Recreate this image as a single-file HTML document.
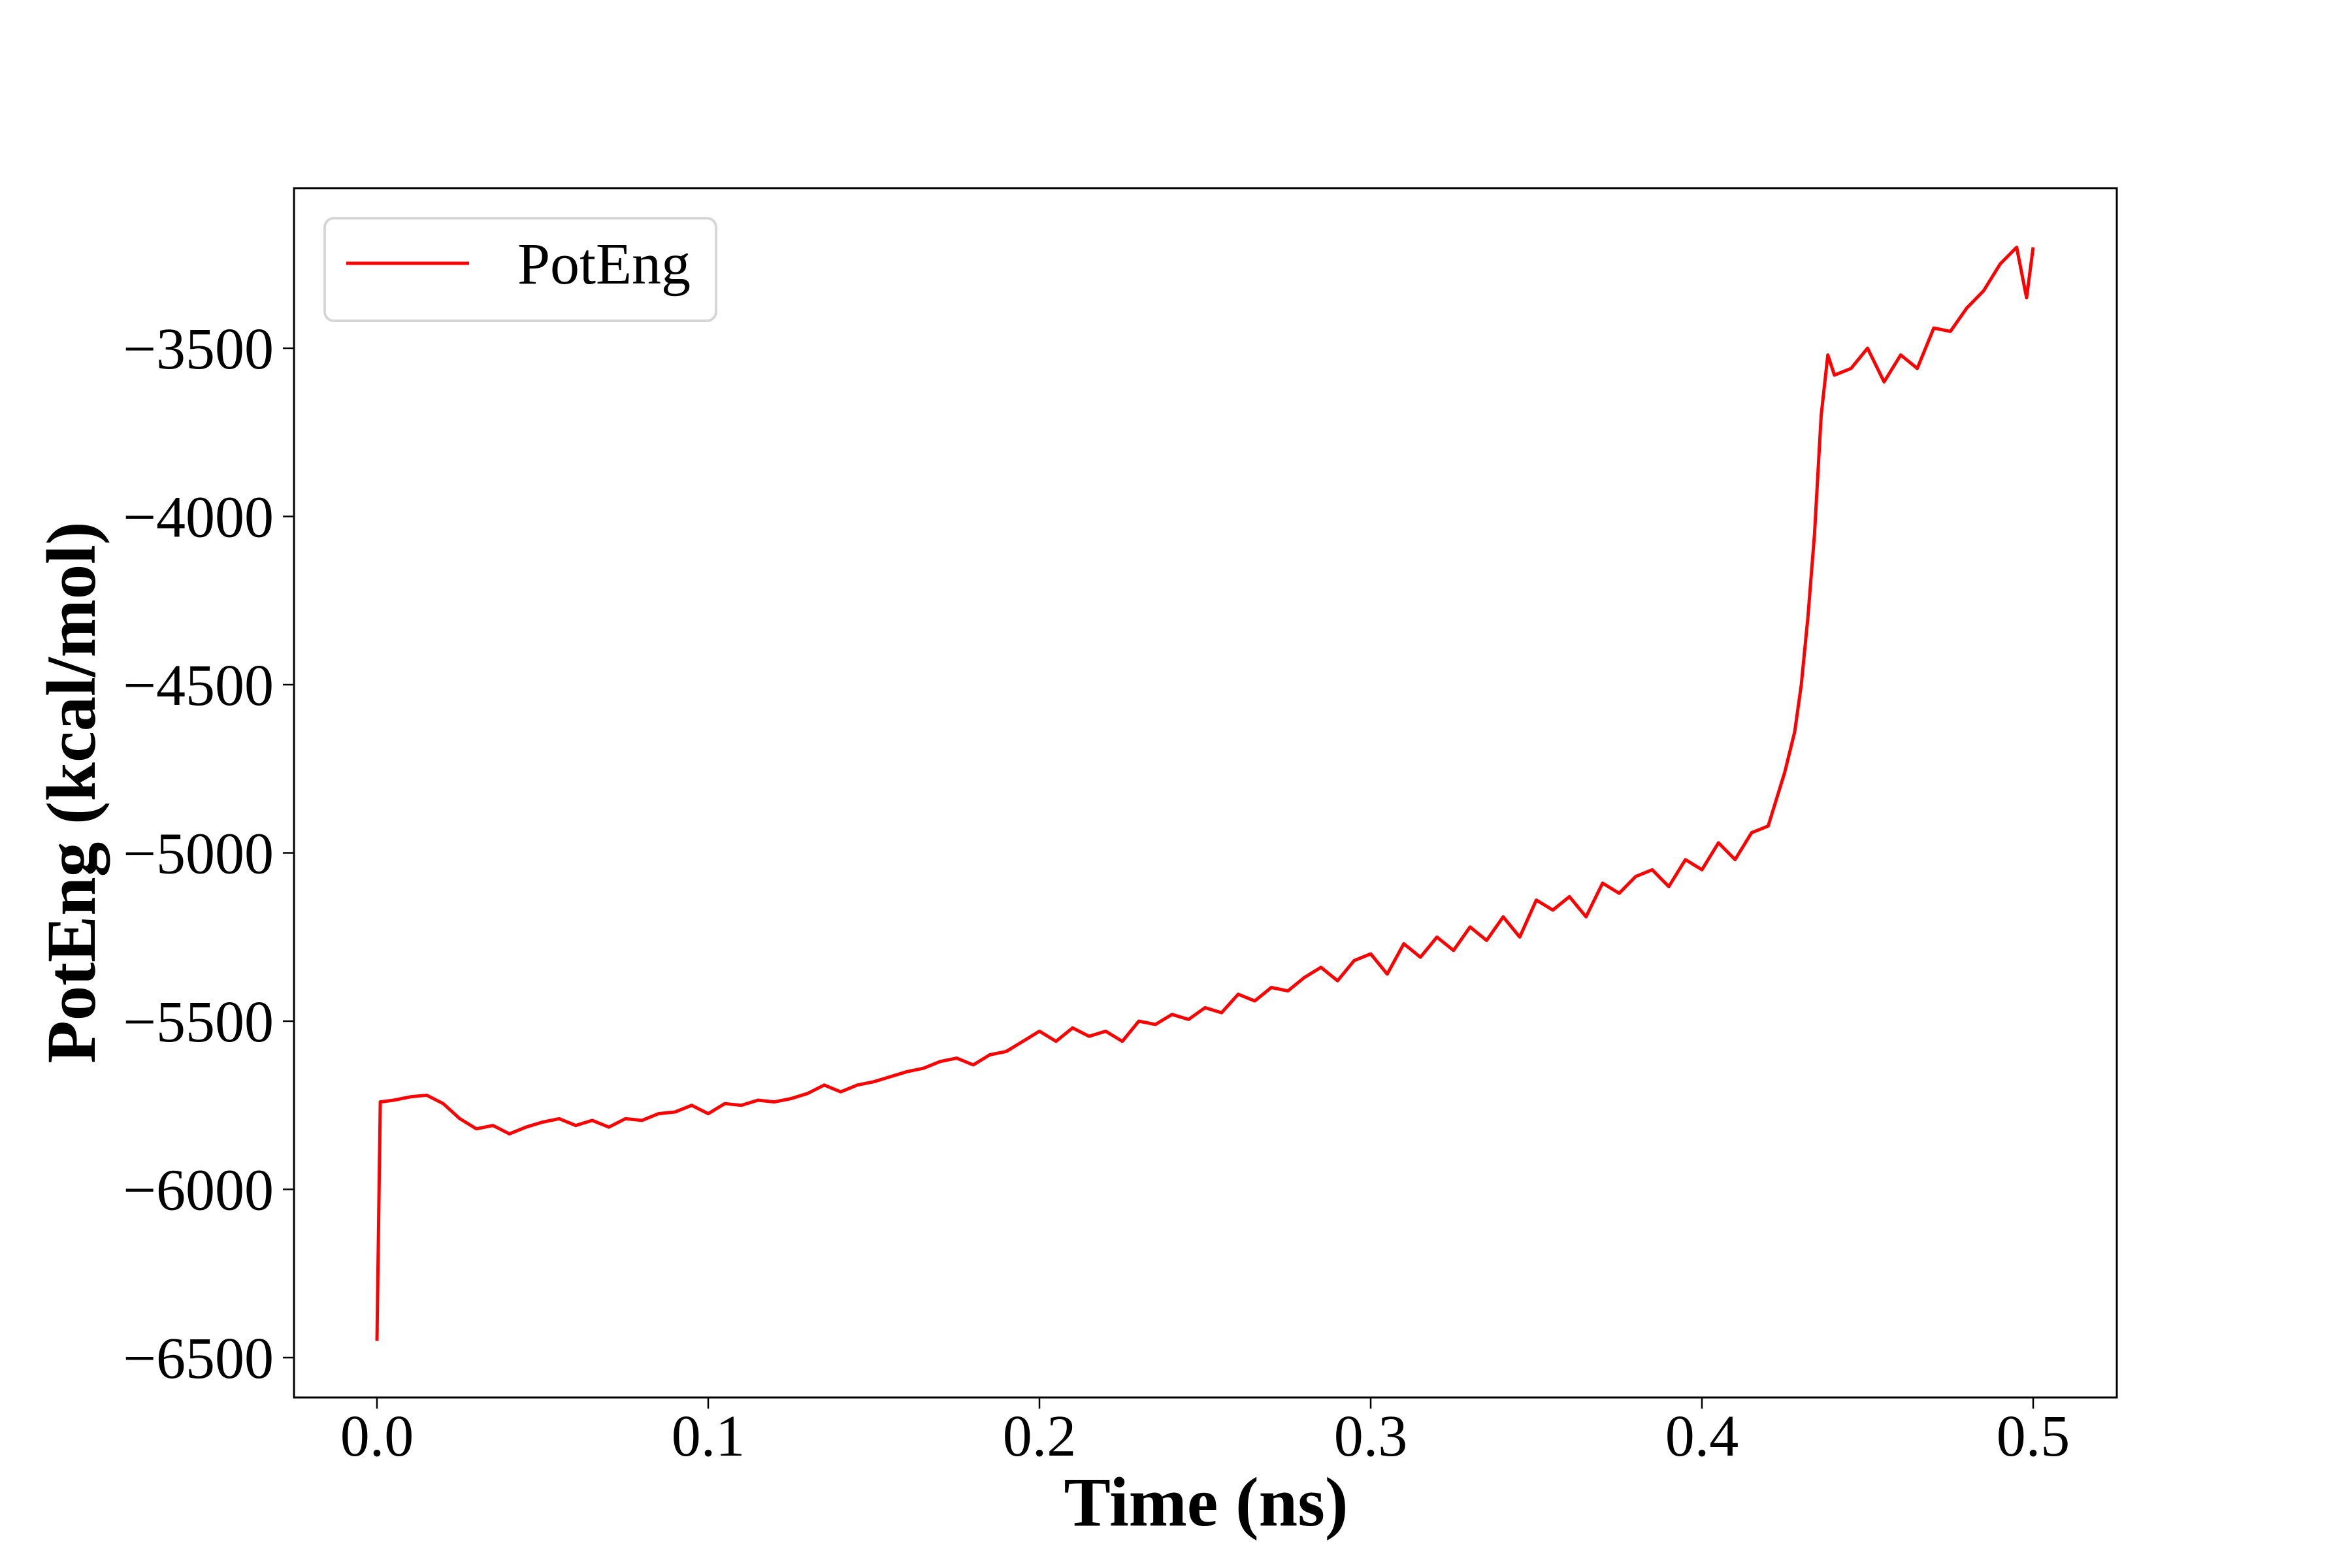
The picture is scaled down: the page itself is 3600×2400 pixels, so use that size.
<!DOCTYPE html>
<html>
<head>
<meta charset="utf-8">
<style>
html,body{margin:0;padding:0;background:#fff;}
svg{display:block;}
text{font-family:"Liberation Serif","Times New Roman",serif;fill:#000;}
</style>
</head>
<body>
<svg id="chart" width="3600" height="2400" viewBox="0 0 3600 2400" xmlns="http://www.w3.org/2000/svg">
  <rect x="0" y="0" width="3600" height="2400" fill="#fff"/>
  <g id="series"></g>
  <g id="xticks"></g>
  <g id="yticks"></g>
  <rect x="450" y="288" width="2790" height="1851" fill="none" stroke="#000" stroke-width="3"/>
  <text x="1846" y="2335" font-size="107" font-weight="bold" text-anchor="middle">Time (ns)</text>
  <text transform="translate(145,1213) rotate(-90)" x="0" y="0" font-size="107" font-weight="bold" text-anchor="middle">PotEng (kcal/mol)</text>
  <g>
    <rect x="497" y="334" width="599" height="157" rx="14" fill="#fff" fill-opacity="0.8" stroke="#d6d6d6" stroke-width="4"/>
    <line x1="530" y1="403" x2="718" y2="403" stroke="#ff0000" stroke-width="5"/>
    <text x="792" y="434" font-size="90">PotEng</text>
  </g>
</svg>
<script>
const times = [0,0.001,0.005,0.010,0.015,0.020,0.025,0.030,0.035,0.040,0.045,0.050,0.055,0.060,0.065,0.070,0.075,0.080,0.085,0.090,0.095,0.100,0.105,0.110,0.115,0.120,0.125,0.130,0.135,0.140,0.145,0.150,0.155,0.160,0.165,0.170,0.175,0.180,0.185,0.190,0.195,0.200,0.205,0.210,0.215,0.220,0.225,0.230,0.235,0.240,0.245,0.250,0.255,0.260,0.265,0.270,0.275,0.280,0.285,0.290,0.295,0.300,0.305,0.310,0.315,0.320,0.325,0.330,0.335,0.340,0.345,0.350,0.355,0.360,0.365,0.370,0.375,0.380,0.385,0.390,0.395,0.400,0.405,0.410,0.415,0.420,0.425,0.428,0.430,0.432,0.434,0.436,0.438,0.440,0.445,0.450,0.455,0.460,0.465,0.470,0.475,0.480,0.485,0.490,0.495,0.498,0.500];
const potEng = [-6450,-5740,-5735,-5725,-5720,-5745,-5790,-5820,-5810,-5835,-5815,-5800,-5790,-5810,-5795,-5815,-5790,-5795,-5775,-5770,-5750,-5775,-5745,-5750,-5735,-5740,-5730,-5715,-5690,-5710,-5690,-5680,-5665,-5650,-5640,-5620,-5610,-5630,-5600,-5590,-5560,-5530,-5560,-5520,-5545,-5530,-5560,-5500,-5510,-5480,-5495,-5460,-5475,-5420,-5440,-5400,-5410,-5370,-5340,-5380,-5320,-5300,-5360,-5270,-5310,-5250,-5290,-5220,-5260,-5190,-5250,-5140,-5170,-5130,-5190,-5090,-5120,-5070,-5050,-5100,-5020,-5050,-4970,-5020,-4940,-4920,-4760,-4640,-4500,-4300,-4050,-3700,-3520,-3580,-3560,-3500,-3600,-3520,-3560,-3440,-3450,-3380,-3330,-3250,-3200,-3350,-3200];
const xTickValues = [0,0.1,0.2,0.3,0.4,0.5];
const xTickLabels = ["0.0","0.1","0.2","0.3","0.4","0.5"];
const yTickValues = [-3500,-4000,-4500,-5000,-5500,-6000,-6500];
const yTickLabels = ["\u22123500","\u22124000","\u22124500","\u22125000","\u22125500","\u22126000","\u22126500"];

const NS = "http://www.w3.org/2000/svg";
function xScale(t){ return 577 + t * 5070; }
function yScale(v){ return 533 + (-3500 - v) / 500 * 257.5; }

const series = document.getElementById('series');
let d = '';
for (let i = 0; i < times.length; i++) {
  d += (i === 0 ? 'M' : 'L') + xScale(times[i]).toFixed(1) + ',' + yScale(potEng[i]).toFixed(1);
}
const path = document.createElementNS(NS, 'path');
path.setAttribute('d', d);
path.setAttribute('fill', 'none');
path.setAttribute('stroke', '#ff0000');
path.setAttribute('stroke-width', '5');
path.setAttribute('stroke-linejoin', 'round');


series.appendChild(path);

const xg = document.getElementById('xticks');
for (let i = 0; i < xTickValues.length; i++) {
  const x = xScale(xTickValues[i]);
  const tk = document.createElementNS(NS, 'line');
  tk.setAttribute('x1', x); tk.setAttribute('x2', x);
  tk.setAttribute('y1', 2139); tk.setAttribute('y2', 2156);
  tk.setAttribute('stroke', '#000'); tk.setAttribute('stroke-width', '2.5');
  
  
  xg.appendChild(tk);
  const tx = document.createElementNS(NS, 'text');
  tx.setAttribute('x', x); tx.setAttribute('y', 2228);
  tx.setAttribute('font-size', '90');
  tx.setAttribute('text-anchor', 'middle');
  tx.textContent = xTickLabels[i];
  
  
  xg.appendChild(tx);
}

const yg = document.getElementById('yticks');
for (let i = 0; i < yTickValues.length; i++) {
  const y = yScale(yTickValues[i]);
  const tk = document.createElementNS(NS, 'line');
  tk.setAttribute('x1', 433); tk.setAttribute('x2', 450);
  tk.setAttribute('y1', y); tk.setAttribute('y2', y);
  tk.setAttribute('stroke', '#000'); tk.setAttribute('stroke-width', '2.5');
  
  
  yg.appendChild(tk);
  const tx = document.createElementNS(NS, 'text');
  tx.setAttribute('x', 419); tx.setAttribute('y', y + 31);
  tx.setAttribute('font-size', '90');
  tx.setAttribute('text-anchor', 'end');
  tx.textContent = yTickLabels[i];
  
  
  yg.appendChild(tx);
}
</script>
</body>
</html>
